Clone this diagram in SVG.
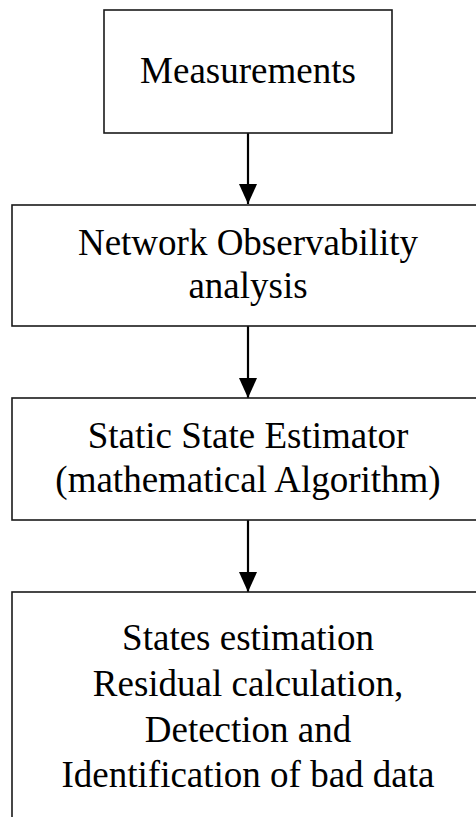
<svg xmlns="http://www.w3.org/2000/svg" width="476" height="817" viewBox="0 0 476 817">
  <defs>
    <style>
      .box { fill: #ffffff; stroke: #1a1a1a; stroke-width: 1.6; }
      .lbl { font-family: "Liberation Serif", "Times New Roman", serif; font-size: 37px; fill: #000000; text-anchor: middle; }
      .flow { stroke: #000000; stroke-width: 2.2; fill: none; }
    </style>
    <marker id="head" viewBox="0 0 20 18" refX="20" refY="9" markerWidth="20" markerHeight="18" markerUnits="userSpaceOnUse" orient="auto">
      <path d="M0,0 L20,9 L0,18 Z" fill="#000000"/>
    </marker>
  </defs>
  <rect width="476" height="817" fill="#ffffff"/>

  <g id="connectors">
    <line class="flow" x1="248" y1="133" x2="248" y2="204" marker-end="url(#head)"/>
    <line class="flow" x1="248" y1="326" x2="248" y2="398" marker-end="url(#head)"/>
    <line class="flow" x1="248" y1="520" x2="248" y2="592" marker-end="url(#head)"/>
  </g>

  <g id="measurements">
    <rect class="box" x="104" y="10" width="288" height="123"/>
    <text class="lbl" x="248" y="83">Measurements</text>
  </g>

  <g id="observability">
    <rect class="box" x="12" y="205" width="472" height="121"/>
    <text class="lbl" x="248" y="255">Network Observability</text>
    <text class="lbl" x="248" y="298">analysis</text>
  </g>

  <g id="estimator">
    <rect class="box" x="12" y="398" width="472" height="122"/>
    <text class="lbl" x="248" y="448">Static State Estimator</text>
    <text class="lbl" x="248" y="492">(mathematical Algorithm)</text>
  </g>

  <g id="bad-data">
    <rect class="box" x="12" y="592" width="472" height="240"/>
    <text class="lbl" x="248" y="650">States estimation</text>
    <text class="lbl" x="248" y="696">Residual calculation,</text>
    <text class="lbl" x="248" y="742">Detection and</text>
    <text class="lbl" x="248" y="787">Identification of bad data</text>
  </g>
</svg>
